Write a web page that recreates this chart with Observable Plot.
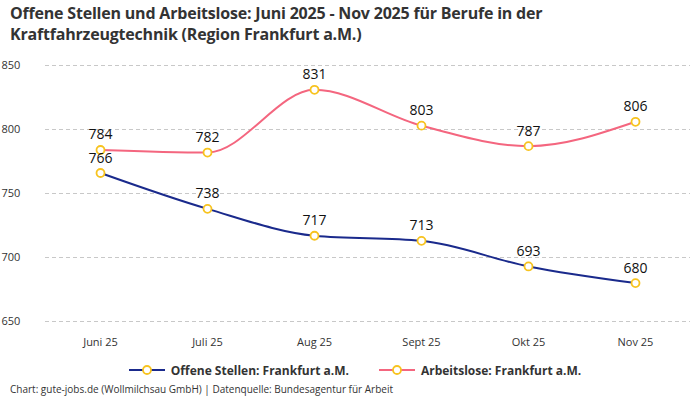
<!DOCTYPE html>
<html><head><meta charset="utf-8">
<script src="https://cdn.jsdelivr.net/npm/d3@7"></script>
<script src="https://cdn.jsdelivr.net/npm/@observablehq/plot@0.6"></script>
<style>
body{margin:0;background:#fff;font-family:"Open Sans","Noto Sans",sans-serif;width:700px;}
#title{font-weight:700;font-size:16px;line-height:21px;color:#333;padding:3px 0 0 10px;height:50px;box-sizing:border-box;letter-spacing:-0.2px}
#legend{display:flex;justify-content:center;gap:30px;font-size:12px;font-weight:700;color:#333;height:22px;align-items:center;margin-top:7px;padding-left:10px}
.li{display:flex;align-items:center;gap:6px}
#caption{font-size:10px;color:#333;padding-left:10px;margin-top:1px}
</style></head>
<body>
<div id="title">Offene Stellen und Arbeitslose: Juni 2025 - Nov 2025 für Berufe in der<br>Kraftfahrzeugtechnik (Region Frankfurt a.M.)</div>
<div id="chart"></div>
<div id="legend"></div>
<div id="caption">Chart: gute-jobs.de (Wollmilchsau GmbH) | Datenquelle: Bundesagentur für Arbeit</div>
<script>
const months = ["Juni 25","Juli 25","Aug 25","Sept 25","Okt 25","Nov 25"];
const offeneStellen = [766,738,717,713,693,680];
const arbeitslose = [784,782,831,803,787,806];
const yTicks = [650,700,750,800,850];
const seriesNames = ["Offene Stellen: Frankfurt a.M.","Arbeitslose: Frankfurt a.M."];
const seriesColors = ["#1a2a8c","#f4667f"];
const pointColor = "#f7c31f";

const data = [];
months.forEach((m,i)=>{
  data.push({month:m, value:offeneStellen[i], series:seriesNames[0]});
  data.push({month:m, value:arbeitslose[i], series:seriesNames[1]});
});

const chart = Plot.plot({
  width:700, height:302,
  marginTop:15, marginBottom:31, marginLeft:45, marginRight:10,
  style:{fontFamily:"'Open Sans', 'Noto Sans', sans-serif", fontSize:"11px", color:"#333"},
  x:{type:"point", domain:months, padding:0.5, label:null},
  y:{domain:[650,850], label:null},
  color:{domain:seriesNames, range:seriesColors},
  marks:[
    Plot.gridY(yTicks,{stroke:"#c8c8c8", strokeOpacity:1, strokeDasharray:"4,3"}),
    Plot.axisY({ticks:yTicks, tickSize:0, textAnchor:"start", dx:-35, fontSize:11, fill:"#333", label:null}),
    Plot.axisX({tickSize:0, dy:8, fontSize:11, fill:"#333", label:null}),
    Plot.line(data,{x:"month", y:"value", stroke:"series", curve:"monotone-x", strokeWidth:2}),
    Plot.dot(data,{x:"month", y:"value", r:4, fill:"white", stroke:pointColor, strokeWidth:1.8}),
    Plot.text(data,{x:"month", y:"value", text:d=>String(d.value), dy:-15, fontSize:14, fill:"#111"})
  ]
});
document.getElementById("chart").appendChild(chart);

const legend = document.getElementById("legend");
seriesNames.forEach((n,i)=>{
  const div = document.createElement("div"); div.className="li";
  div.innerHTML = `<svg width="36" height="12"><line x1="0" x2="36" y1="6" y2="6" stroke="${seriesColors[i]}" stroke-width="2"/><circle cx="18" cy="6" r="4" fill="white" stroke="${pointColor}" stroke-width="1.8"/></svg><span>${n}</span>`;
  legend.appendChild(div);
});
</script>
</body></html>
